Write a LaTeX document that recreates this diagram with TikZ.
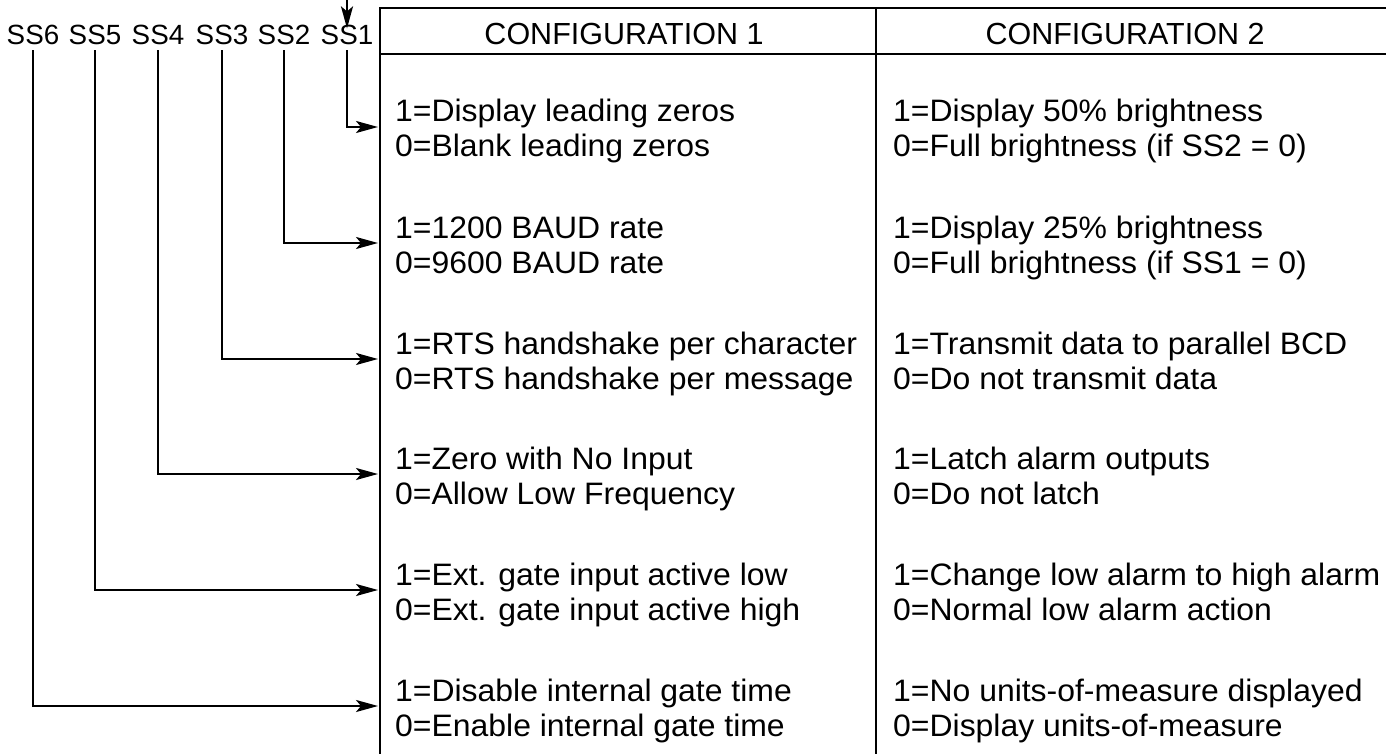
\documentclass[tikz,border=0pt]{standalone}
\usepackage{fontspec}
\setmainfont{Liberation Sans}
\newfontfamily\rowfont[FakeStretch=1.03]{Liberation Sans}
\usetikzlibrary{arrows.meta}
\begin{document}
\begin{tikzpicture}[x=1pt,y=-1pt,
  rule/.style={line width=2.2pt},
  conn/.style={line width=2.2pt,-{Stealth[length=22pt,width=12pt,inset=5pt]}},
  sslab/.style={anchor=base,inner sep=0pt,font=\fontsize{27.8}{31}\selectfont},
  cell/.style={anchor=base west,inner sep=0pt,font=\rowfont\fontsize{31}{35}\selectfont},
  head/.style={anchor=base,inner sep=0pt,font=\fontsize{30.5}{34}\selectfont}]
\useasboundingbox (0,0) rectangle (1386,754);
% table
\draw[rule] (1386,8) -- (380,8) -- (380,754);
\draw[rule] (380,54) -- (1386,54);
\draw[rule] (876,8) -- (876,754);
\node[head] (h1) at (624,45) {CONFIGURATION 1};
\node[head] (h2) at (1125,45) {CONFIGURATION 2};
% switch labels
\node[sslab] (ss6) at (33,45) {SS6};
\node[sslab] (ss5) at (95,45) {SS5};
\node[sslab] (ss4) at (158,45) {SS4};
\node[sslab] (ss3) at (222,45) {SS3};
\node[sslab] (ss2) at (284,45) {SS2};
\node[sslab] (ss1) at (347,45) {SS1};
% column 1 (first line baseline 5 above arrow, second 35 below it)
\node[cell] (a1) at (395,122) {1=Display leading zeros};
\node[cell] (a1b) at (395,157) {0=Blank leading zeros};
\node[cell] (a2) at (395,238) {1=1200 BAUD rate};
\node[cell] (a2b) at (395,273) {0=9600 BAUD rate};
\node[cell] (a3) at (395,354) {1=RTS handshake per character};
\node[cell] (a3b) at (395,389) {0=RTS handshake per message};
\node[cell] (a4) at (395,469) {1=Zero with No Input};
\node[cell] (a4b) at (395,504) {0=Allow Low Frequency};
\node[cell] (a5) at (395,585) {1=Ext. gate input active low};
\node[cell] (a5b) at (395,620) {0=Ext. gate input active high};
\node[cell] (a6) at (395,701) {1=Disable internal gate time};
\node[cell] (a6b) at (395,736) {0=Enable internal gate time};
% column 2
\node[cell] (b1) at (893,122) {1=Display 50\% brightness};
\node[cell] (b1b) at (893,157) {0=Full brightness (if SS2 = 0)};
\node[cell] (b2) at (893,238) {1=Display 25\% brightness};
\node[cell] (b2b) at (893,273) {0=Full brightness (if SS1 = 0)};
\node[cell] (b3) at (893,354) {1=Transmit data to parallel BCD};
\node[cell] (b3b) at (893,389) {0=Do not transmit data};
\node[cell] (b4) at (893,469) {1=Latch alarm outputs};
\node[cell] (b4b) at (893,504) {0=Do not latch};
\node[cell] (b5) at (893,585) {1=Change low alarm to high alarm};
\node[cell] (b5b) at (893,620) {0=Normal low alarm action};
\node[cell] (b6) at (893,701) {1=No units-of-measure displayed};
\node[cell] (b6b) at (893,736) {0=Display units-of-measure};
% connectors
\coordinate (top) at (347,-2);
\draw[conn,shorten >=-3pt] (top) -- (ss1.north);
\foreach \i in {1,...,6}{
  \draw[conn,shorten <=5pt,shorten >=17pt] (ss\i.south) |- ([yshift=-5pt]a\i.base west);
}
\end{tikzpicture}
\end{document}
